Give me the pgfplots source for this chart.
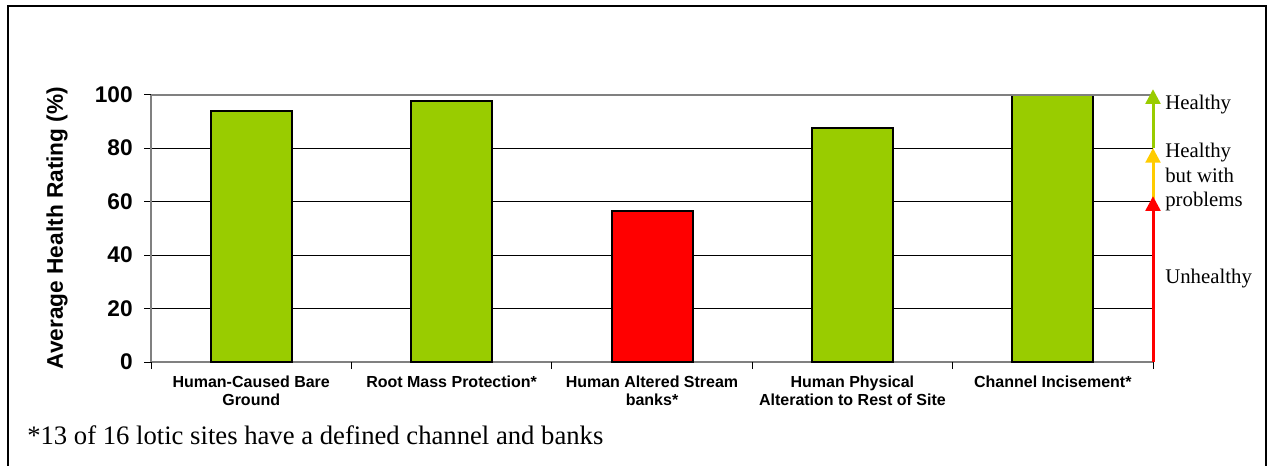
\documentclass[border=0pt]{standalone}
\usepackage{fontspec}
\setmainfont{Liberation Serif}
\setsansfont{Liberation Sans}
\usepackage{pgfplots}
\pgfplotsset{compat=1.18}
\usetikzlibrary{arrows.meta}
\definecolor{barGreen}{HTML}{99CC00}
\definecolor{barRed}{HTML}{FF0000}
\definecolor{arrYellow}{HTML}{FFCC00}
\definecolor{axGray}{HTML}{808080}

\pgfplotstableread{
x  y
0  94
1  97.5
3  87.5
4  100
}\healthy
\pgfplotstableread{
x  y
2  56.5
}\unhealthy

\begin{document}
\begin{tikzpicture}[x=0.75pt,y=0.75pt]
% page canvas and frame (open at the bottom)
\path[use as bounding box] (0,0) rectangle (1267,465);
\draw[line width=1.5pt] (7.5,-10) -- (7.5,459) -- (1265.5,459) -- (1265.5,-10);

\begin{axis}[
  at={(113.25pt,77.25pt)}, anchor=south west,
  scale only axis, width=751.5pt, height=200.625pt,
  xmin=-0.5, xmax=4.5, ymin=0, ymax=100,
  clip=false,
  axis x line*=bottom, axis y line*=left,
  axis line style={axGray, line width=1.5pt},
  ytick={0,20,...,100},
  ymajorgrids, grid style={black, line width=0.75pt},
  tick align=outside,
  ytick style={black, line width=0.75pt},
  major tick length=5.25pt,
  yticklabel style={font=\sffamily\bfseries\fontsize{17}{18}\selectfont, /pgf/number format/assume math mode=true, xshift=-5pt},
  xtick={0,1,2,3,4},
  x tick style={draw=none},
  xticklabels={{Human-Caused Bare\\Ground},{Root Mass Protection*},{Human Altered Stream\\banks*},{Human Physical\\Alteration to Rest of Site},{Channel Incisement*}},
  xticklabel style={align=center, font=\sffamily\bfseries\fontsize{12}{13.5}\selectfont, anchor=north, yshift=-2pt},
  extra x ticks={-0.5,0.5,1.5,2.5,3.5,4.5},
  extra x tick labels={},
  extra x tick style={grid=none, x tick style={draw=black, line width=0.75pt}, major tick length=5.25pt},
  ybar, bar width=60.75pt,
]
\addplot[fill=barGreen, draw=black, line width=1.5pt, bar shift=0pt] table[x=x,y=y] {\healthy};
\addplot[fill=barRed, draw=black, line width=1.5pt, bar shift=0pt] table[x=x,y=y] {\unhealthy};
% top border line at 100
\draw[axGray, line width=1.5pt] (axis cs:-0.5,100) -- (axis cs:4.5,100);
% health scale arrows along the right edge
\draw[barGreen, line width=2.25pt, -{Triangle[length=11pt,width=11pt]}] (axis cs:4.5,80) -- (axis cs:4.5,102);
\draw[arrYellow, line width=2.25pt, -{Triangle[length=11pt,width=11pt]}] (axis cs:4.5,61) -- (axis cs:4.5,80);
\draw[barRed, line width=2.25pt, -{Triangle[length=11pt,width=11pt]}] (axis cs:4.5,0) -- (axis cs:4.5,62);
\end{axis}

% y axis title
\node[rotate=90, font=\sffamily\bfseries\fontsize{17}{20}\selectfont] at (57,237) {Average Health Rating (\%)};

% scale labels
\begin{scope}[every node/.style={anchor=base west, inner sep=0pt, font=\fontsize{15.6}{18}\selectfont}]
\node at (1165,355) {Healthy};
\node at (1165,307) {Healthy};
\node at (1165,282) {but with};
\node at (1165,258) {problems};
\node at (1165,182) {Unhealthy};
\end{scope}

% footnote
\node[anchor=base west, inner sep=0pt, font=\fontsize{20}{24}\selectfont] at (27,21) {*13 of 16 lotic sites have a defined channel and banks};
\end{tikzpicture}
\end{document}
